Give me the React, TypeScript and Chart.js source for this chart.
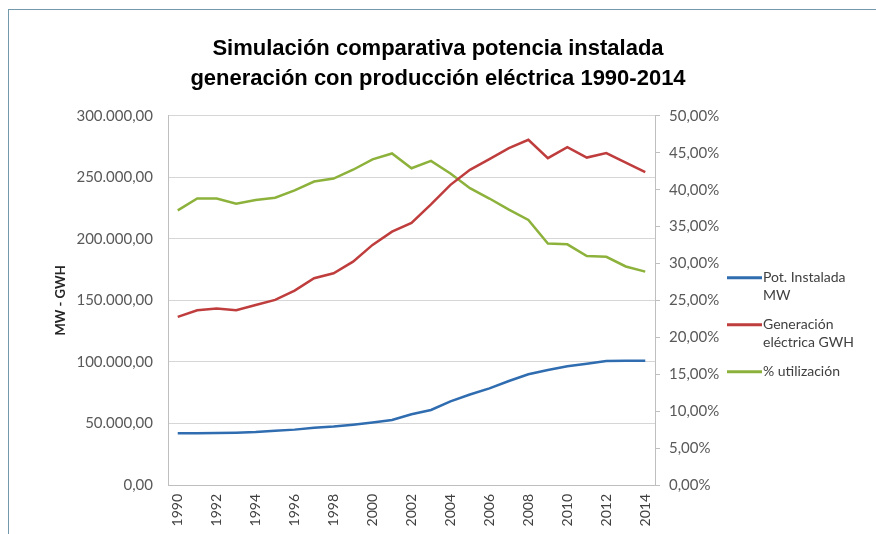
import React, { useEffect, useRef } from "react";
import { Chart, registerables } from "chart.js";

Chart.register(...registerables);

const years = [
  "1990", "1991", "1992", "1993", "1994", "1995", "1996", "1997", "1998", "1999",
  "2000", "2001", "2002", "2003", "2004", "2005", "2006", "2007", "2008", "2009",
  "2010", "2011", "2012", "2013", "2014",
];

const potInstaladaMW = [
  42000, 42000, 42300, 42500, 43000, 44000, 45000, 46500, 47500, 49000,
  50800, 52800, 57500, 61000, 68000, 73500, 78500, 84500, 90000, 93500,
  96500, 98500, 100700, 101000, 101000,
];

const generacionGWH = [
  136600, 142000, 143500, 142000, 146300, 150400, 158000, 168000, 172100, 181500,
  195100, 205900, 213000, 228000, 243900, 256100, 264800, 273700, 280500, 265600,
  274500, 266100, 269700, 262000, 254200,
];

const utilizacionPct = [
  37.2, 38.8, 38.8, 38.1, 38.6, 38.9, 39.9, 41.1, 41.5, 42.7,
  44.1, 44.9, 42.9, 43.9, 42.2, 40.2, 38.8, 37.3, 35.9, 32.7,
  32.6, 31.0, 30.9, 29.6, 28.9,
];

const seriesLabels = ["Pot. Instalada MW", "Generación eléctrica GWH", "% utilización"];
const legendLines = [["Pot. Instalada", "MW"], ["Generación", "eléctrica GWH"], ["% utilización"]];
const titleLines = [
  "Simulación comparativa potencia instalada",
  "generación con producción eléctrica 1990-2014",
];
const leftAxisTitle = "MW - GWH";

const COLORS = ["#2f6cb0", "#bf3d3d", "#8db23c"];
const TICK_FONT = "Lato, 'Open Sans', sans-serif";

function fmtThousands(v: number): string {
  const s = Math.round(v).toString().replace(/\B(?=(\d{3})+(?!\d))/g, ".");
  return s + ",00";
}

const legendPlugin = {
  id: "sideLegend",
  afterDraw(chart: any) {
    const { ctx, chartArea } = chart;
    const x0 = chartArea.right + 72;
    let y = chartArea.top + 162;
    ctx.save();
    ctx.font = "14px " + TICK_FONT;
    ctx.textBaseline = "middle";
    ctx.textAlign = "left";
    chart.data.datasets.forEach((ds: any, i: number) => {
      ctx.strokeStyle = ds.borderColor;
      ctx.lineWidth = 3;
      ctx.beginPath();
      ctx.moveTo(x0, y);
      ctx.lineTo(x0 + 35, y);
      ctx.stroke();
      ctx.fillStyle = "#404040";
      const lines = legendLines[i];
      lines.forEach((ln, j) => {
        ctx.fillText(ln, x0 + 36, y + j * 18);
      });
      y += 47;
    });
    ctx.restore();
  },
};

export default function App() {
  const ref = useRef<HTMLCanvasElement | null>(null);

  useEffect(() => {
    if (!ref.current) return;
    const chart = new Chart(ref.current, {
      type: "line",
      data: {
        labels: years,
        datasets: [
          {
            label: seriesLabels[0],
            data: potInstaladaMW,
            borderColor: COLORS[0],
            backgroundColor: COLORS[0],
            borderWidth: 2.5,
            pointRadius: 0,
            tension: 0,
            yAxisID: "y",
          },
          {
            label: seriesLabels[1],
            data: generacionGWH,
            borderColor: COLORS[1],
            backgroundColor: COLORS[1],
            borderWidth: 2.5,
            pointRadius: 0,
            tension: 0,
            yAxisID: "y",
          },
          {
            label: seriesLabels[2],
            data: utilizacionPct,
            borderColor: COLORS[2],
            backgroundColor: COLORS[2],
            borderWidth: 2.5,
            pointRadius: 0,
            tension: 0,
            yAxisID: "y1",
          },
        ],
      },
      options: {
        animation: false,
        responsive: false,
        maintainAspectRatio: false,
        layout: { padding: { left: 0, right: 0, top: 0, bottom: 0 } },
        plugins: {
          legend: { display: false },
          tooltip: { enabled: false },
          title: {
            display: true,
            text: titleLines,
            color: "#000000",
            font: { family: "'Liberation Sans', Arial, sans-serif", size: 22, weight: "bold", lineHeight: 1.36 },
            padding: { top: 34, bottom: 22 },
          },
        },
        scales: {
          x: {
            type: "category",
            offset: true,
            grid: { display: false, drawTicks: false },
            border: { display: true, color: "#bfbfbf", width: 1 },
            ticks: {
              autoSkip: false,
              minRotation: 90,
              maxRotation: 90,
              padding: 9,
              color: "#404040",
              font: { family: TICK_FONT, size: 14 },
              callback: function (_v: any, i: number) {
                return i % 2 === 0 ? years[i] : "";
              },
            },
            afterFit: (scale: any) => {
              scale.height = 49;
            },
          },
          y: {
            position: "left",
            min: 0,
            max: 300000,
            grid: { color: "#d6d6d6", lineWidth: 1, drawTicks: false },
            border: { display: true, color: "#bfbfbf", width: 1 },
            ticks: {
              stepSize: 50000,
              padding: 15,
              color: "#595959",
              font: { family: TICK_FONT, size: 15 },
              callback: (v: any) => fmtThousands(Number(v)),
            },
            title: {
              display: true,
              text: leftAxisTitle,
              color: "#262626",
              font: { family: TICK_FONT, size: 13, weight: "bold", lineHeight: 1.2 },
              padding: { top: 53, bottom: 0 },
            },
            afterFit: (scale: any) => {
              scale.width = 168;
            },
          },
          y1: {
            position: "right",
            min: 0,
            max: 50,
            grid: { drawOnChartArea: false, drawTicks: true, tickLength: 5, color: "#bfbfbf" },
            border: { display: true, color: "#bfbfbf", width: 1 },
            ticks: {
              stepSize: 5,
              padding: 9,
              color: "#595959",
              font: { family: TICK_FONT, size: 15 },
              callback: (v: any) => Number(v).toFixed(2).replace(".", ",") + "%",
            },
            afterFit: (scale: any) => {
              scale.width = 221;
            },
          },
        },
      },
      plugins: [legendPlugin],
    });
    return () => chart.destroy();
  }, []);

  return (
    <div style={{ position: "fixed", left: 0, top: 0, width: 876, height: 534, background: "#ffffff", overflow: "hidden" }}>
      <div
        style={{
          position: "absolute",
          left: 8,
          top: 9,
          width: 900,
          height: 600,
          borderTop: "1.5px solid #7499ab",
          borderLeft: "1.5px solid #7499ab",
        }}
      />
      <canvas ref={ref} width={876} height={534} style={{ position: "absolute", left: 0, top: 0, display: "block" }} />
    </div>
  );
}
